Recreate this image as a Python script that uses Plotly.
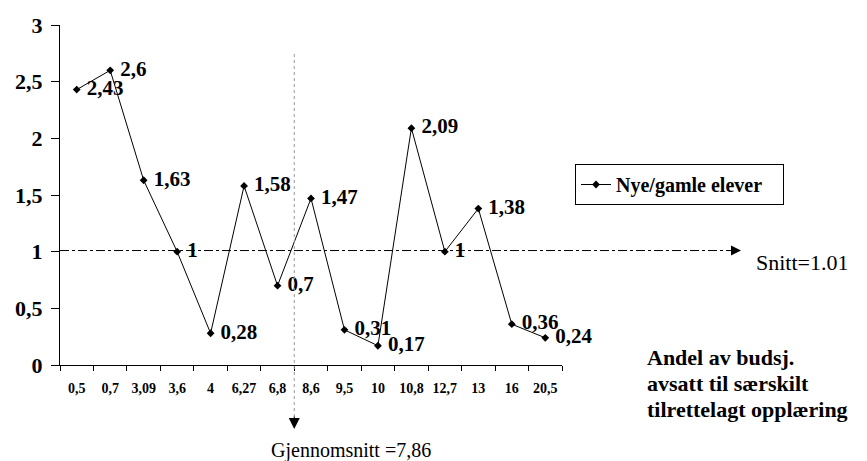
import plotly.graph_objects as go

categories = ["0,5", "0,7", "3,09", "3,6", "4", "6,27", "6,8", "8,6", "9,5", "10",
              "10,8", "12,7", "13", "16", "20,5"]
values = [2.43, 2.6, 1.63, 1, 0.28, 1.58, 0.7, 1.47, 0.31, 0.17, 2.09, 1, 1.38, 0.36, 0.24]
series_name = "Nye/gamle elever"
mean_y = 1.01
mean_y_label = "Snitt=1.01"
mean_x_label = "Gjennomsnitt =7,86"
mean_x_after_index = 6  # line between "6,8" and "8,6"
note_lines = ["Andel av budsj.", "avsatt til særskilt", "tilrettelagt opplæring"]
y_max = 3

labels = ["\u00a0" + f"{v:g}".replace(".", ",") for v in values]

FONT = "Liberation Serif"
L, R, T, B = 60, 305, 25, 96
W, H = 867, 461
PW, PH = W - L - R, H - T - B

def px_x(p):
    return (p - L) / PW

def px_y(p):
    return (H - B - p) / PH

fig = go.Figure()
fig.add_trace(go.Scatter(
    x=categories, y=values, mode="lines+markers+text",
    name=series_name + "\u00a0\u00a0\u00a0",
    text=labels, textposition="middle right",
    textfont=dict(family=FONT, size=21, color="black", weight="bold"),
    line=dict(color="black", width=1),
    marker=dict(symbol="diamond", size=6, color="black"),
    cliponaxis=False,
))

n = len(categories)
xline = (mean_x_after_index + 1) / n
yline = mean_y / y_max

shapes = [
    dict(type="line", xref="paper", yref="paper", x0=xline, x1=xline,
         y0=px_y(54), y1=px_y(418), line=dict(color="#999999", width=1, dash="dot")),
    dict(type="line", xref="paper", yref="paper", x0=0, x1=px_x(730),
         y0=yline, y1=yline, line=dict(color="black", width=1, dash="dashdot")),
]

annotations = [
    dict(xref="paper", yref="paper", x=xline, y=px_y(429), ax=0, ay=-14, text="",
         showarrow=True, arrowhead=2, arrowsize=2.2, arrowwidth=1, arrowcolor="black"),
    dict(xref="paper", yref="paper", x=px_x(741), y=yline, ax=-14, ay=0, text="",
         showarrow=True, arrowhead=2, arrowsize=2, arrowwidth=1, arrowcolor="black"),
    dict(xref="paper", yref="paper", x=px_x(754), y=yline - 12 / PH, text=mean_y_label,
         showarrow=False, xanchor="left", yanchor="middle",
         font=dict(family=FONT, size=22, color="black")),
    dict(xref="paper", yref="paper", x=px_x(351), y=px_y(450), text=mean_x_label,
         showarrow=False, xanchor="center", yanchor="middle",
         font=dict(family=FONT, size=20, color="black")),
]
for i, line in enumerate(note_lines):
    annotations.append(dict(
        xref="paper", yref="paper", x=px_x(645), y=px_y(357 + 26 * i), text=line,
        showarrow=False, xanchor="left", yanchor="middle",
        font=dict(family=FONT, size=22, color="black", weight="bold")))

fig.update_layout(
    width=W, height=H, margin=dict(l=L, r=R, t=T, b=B),
    paper_bgcolor="white", plot_bgcolor="white",
    separators=",.",
    font=dict(family=FONT, color="black"),
    showlegend=True,
    legend=dict(x=px_x(575), y=px_y(164), xanchor="left", yanchor="top",
                bordercolor="black", borderwidth=1, bgcolor="white",
                font=dict(family=FONT, size=20, color="black", weight="bold"),
                itemwidth=30, tracegroupgap=0),
    shapes=shapes, annotations=annotations,
    xaxis=dict(type="category", range=[-0.5, n - 0.5], tickson="boundaries",
               ticks="outside", ticklen=5, tickcolor="black", showline=True,
               linecolor="black", linewidth=1, showgrid=False, zeroline=False,
               ticklabelstandoff=10, tickangle=0,
               tickfont=dict(family=FONT, size=14, color="black", weight="bold")),
    yaxis=dict(range=[0, y_max], dtick=0.5, ticks="outside", ticklen=8,
               tickcolor="black", showline=True, linecolor="black", linewidth=1,
               showgrid=False, zeroline=False, ticklabelstandoff=4,
               tickfont=dict(family=FONT, size=22, color="black", weight="bold")),
)

fig.write_html("out.html")
